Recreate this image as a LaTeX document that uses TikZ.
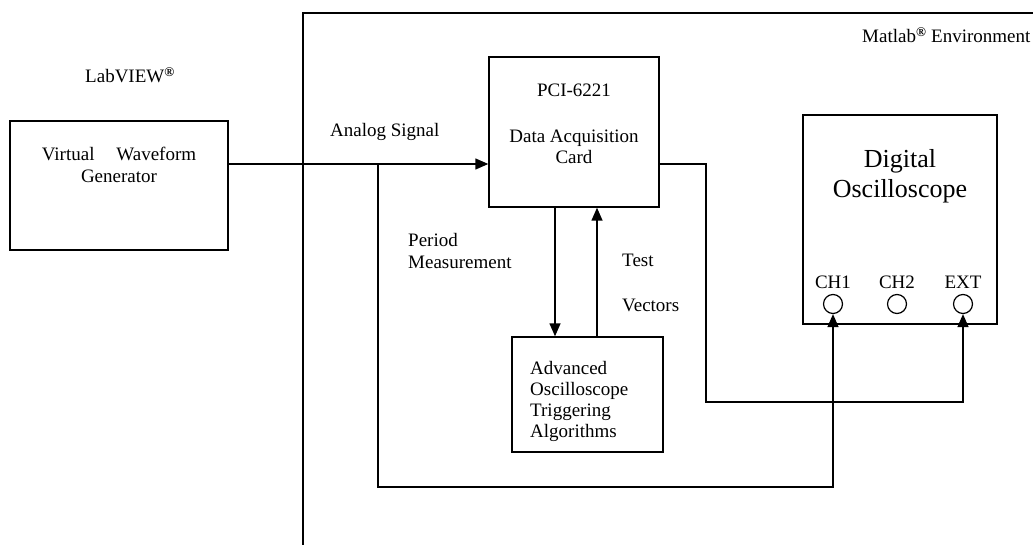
\documentclass[tikz,border=0pt]{standalone}
\usepackage{fontspec}
\setmainfont{Liberation Serif}
\usetikzlibrary{arrows.meta,positioning}

\begin{document}
\begin{tikzpicture}[x=1pt,y=-1pt, every node/.style={font=\fontsize{19}{21.5}\selectfont}, box/.style={draw,line width=1.4pt,inner sep=0pt}, port/.style={circle,draw,line width=1.2pt,minimum size=19pt,inner sep=0pt}, lbl/.style={inner sep=0pt,align=left}, sig/.style={line width=1.4pt,-{Triangle[length=13pt,width=11pt]}}]
\clip (0,0) rectangle (1033,545);
\draw[line width=1.4pt] (303,545) -- (303,13) -- (1033,13);
\node[lbl,anchor=west] (matlab) at (862,35) {Matlab\textsuperscript{\textbf{®}} Environment};
\node[lbl] (labview) at (130,75) {LabVIEW\textsuperscript{\textbf{®}}};
\node[box,minimum width=218pt,minimum height=129pt] (vwg) at (119,185.5) {};
\node[lbl,align=center] (vwgtext) at (119,165) {Virtual\hspace{1.15em}Waveform\\Generator};
\node[box,minimum width=170pt,minimum height=150pt] (daq) at (574,132) {};
\node[lbl] (pci) at (574,90) {PCI-6221};
\node[lbl,align=center] (daqtext) at (574,147) {Data Acquisition\\Card};
\node[box,minimum width=151pt,minimum height=115pt] (adv) at (587.5,394.5) {};
\node[lbl,anchor=west,font=\fontsize{19}{21}\selectfont] (advtext) at (530,401) {Advanced\\Oscilloscope\\Triggering\\Algorithms};
\node[box,minimum width=194pt,minimum height=209pt] (osc) at (900,219.5) {};
\node[lbl,align=center,font=\fontsize{26}{30}\selectfont] (osctext) at (900,176) {Digital\\Oscilloscope};
\node[lbl] (ch1lbl) at (833,282) {CH1};
\node[lbl] (ch2lbl) at (897,282) {CH2};
\node[lbl] (extlbl) at (963,282) {EXT};
\node[port] (ch1) at (833,304) {};
\node[port] (ch2) at (897,304) {};
\node[port] (ext) at (963,304) {};
\node[lbl,anchor=west] (analog) at (330,132) {Analog Signal};
\node[lbl,anchor=west] (period) at (408,251) {Period\\Measurement};
\node[lbl,anchor=west] (test) at (622,260) {Test};
\node[lbl,anchor=west] (vectors) at (622,305) {Vectors};
\coordinate (tap) at (378,164);
\coordinate (lowrun) at (378,487);
\coordinate (daqout) at (659,164);
\coordinate (bend) at (706,402);
\draw[sig] (vwg.east |- tap) -- (tap -| daq.west);
\draw[sig] (tap) -- (lowrun) -| (ch1.south);
\draw[sig] (daqout) -| (bend) -| (ext.south);
\draw[sig] ([xshift=-19pt]daq.south) -- ([xshift=-19pt]daq.south |- adv.north);
\draw[sig] ([xshift=23pt]daq.south |- adv.north) -- ([xshift=23pt]daq.south);
\end{tikzpicture}
\end{document}
